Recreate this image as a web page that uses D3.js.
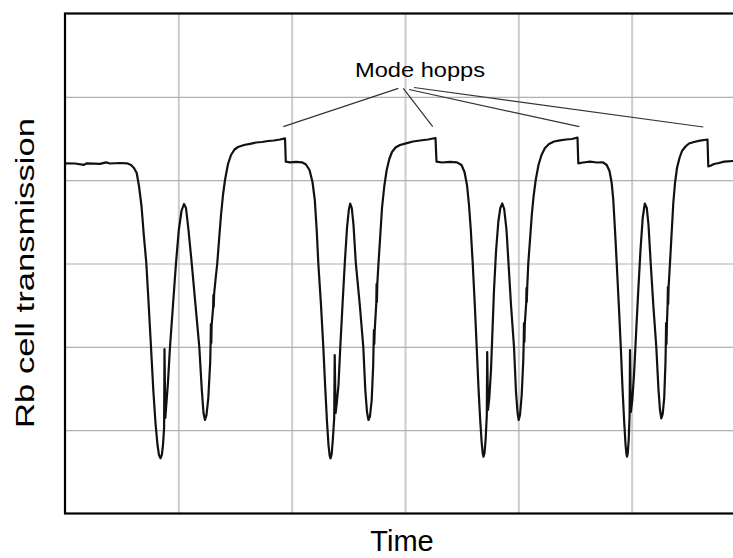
<!DOCTYPE html>
<html>
<head>
<meta charset="utf-8">
<script src="https://cdn.jsdelivr.net/npm/d3@7/dist/d3.min.js"></script>
<style>
  html, body { margin: 0; padding: 0; background: #fff; }
  svg { display: block; }
  text { font-family: "Liberation Sans", Arial, Helvetica, sans-serif; fill: #000; }
</style>
</head>
<body>
<svg id="chart" width="733" height="558"></svg>
<script>
// ---- data (time in arbitrary units, transmission in arbitrary units) ----
const xTicks = [10, 20, 30, 40, 50];
const yTicks = [1, 2, 3, 4, 5];
const xLabel = "Time";
const yLabel = "Rb cell transmission";
const annotationText = "Mode hopps";
// label anchor of the annotation
const annotationAnchor = [31.324, 5.238];
// leader line starts (near the label) and targets (mode hops)
const leaderStarts = [[29.409, 5.102], [29.85, 5.102], [30.353, 5.088], [30.794, 5.112]];
const hopTargets = [[19.262, 4.642], [32.444, 4.642], [45.379, 4.642], [56.32, 4.638]];
// measured trace [time, transmission]
const trace = [
[0,4.202],[0.882,4.20],[1.676,4.184],[1.941,4.202],[3.088,4.196],[3.618,4.214],[3.971,4.20],[4.853,4.206],[5.471,4.202],[5.824,4.182],
[6.088,4.146],[6.326,4.086],[6.529,3.93],[6.75,3.69],[6.953,3.342],[7.174,3.006],[7.385,2.502],[7.588,1.998],[7.791,1.482],[7.985,1.086],
[8.162,0.822],[8.294,0.702],[8.426,0.662],[8.541,0.702],[8.647,0.822],[8.744,1.026],[8.779,1.974],[8.85,1.146],[8.956,1.338],[9.088,1.578],
[9.265,1.998],[9.529,2.502],[9.794,3.006],[10.041,3.402],[10.279,3.63],[10.5,3.714],[10.676,3.666],[10.897,3.402],[11.179,3.006],[11.515,2.502],
[11.85,1.998],[12.071,1.482],[12.221,1.206],[12.353,1.122],[12.485,1.182],[12.644,1.386],[12.812,1.818],[12.847,2.022],[12.874,2.274],[12.909,2.046],
[12.935,2.25],[13.068,2.466],[13.094,2.622],[13.121,2.478],[13.156,2.634],[13.279,2.802],[13.438,3.006],[13.606,3.306],[13.765,3.582],[13.941,3.822],
[14.118,4.002],[14.382,4.194],[14.647,4.302],[14.956,4.368],[15.265,4.398],[15.794,4.422],[16.324,4.436],[16.853,4.452],[17.382,4.458],[17.912,4.47],
[18.441,4.476],[18.971,4.488],[19.412,4.502],[19.482,4.222],[19.853,4.214],[20.382,4.22],[20.912,4.214],[21.265,4.188],[21.574,4.122],[21.838,3.978],
[22.041,3.762],[22.209,3.402],[22.35,3.006],[22.588,2.502],[22.791,1.998],[22.959,1.518],[23.118,1.098],[23.25,0.822],[23.356,0.69],[23.426,0.662],
[23.532,0.714],[23.629,0.882],[23.753,1.146],[23.797,1.902],[23.876,1.206],[23.982,1.326],[24.132,1.542],[24.291,1.998],[24.485,2.502],[24.688,3.006],
[24.882,3.426],[25.041,3.642],[25.165,3.72],[25.306,3.666],[25.456,3.462],[25.659,3.006],[26.012,2.502],[26.32,1.998],[26.497,1.482],[26.647,1.218],
[26.779,1.122],[26.912,1.17],[27.062,1.362],[27.194,1.782],[27.229,2.022],[27.256,2.202],[27.291,2.034],[27.326,2.19],[27.468,2.526],[27.494,2.754],
[27.521,2.538],[27.556,2.754],[27.662,3.006],[27.821,3.342],[27.971,3.666],[28.174,3.93],[28.385,4.122],[28.615,4.254],[28.853,4.338],[29.162,4.392],
[29.559,4.422],[30.088,4.442],[30.706,4.464],[31.324,4.476],[32.029,4.488],[32.691,4.506],[32.779,4.222],[33.265,4.212],[33.971,4.22],[34.588,4.214],
[34.985,4.182],[35.25,4.098],[35.47,3.942],[35.647,3.702],[35.806,3.402],[35.974,3.006],[36.159,2.502],[36.326,1.998],[36.485,1.506],[36.635,1.122],
[36.768,0.846],[36.856,0.726],[36.926,0.682],[37.015,0.726],[37.112,0.882],[37.218,1.182],[37.253,1.938],[37.324,1.242],[37.438,1.386],[37.588,1.722],
[37.721,2.202],[37.853,2.682],[38.029,3.138],[38.232,3.498],[38.409,3.666],[38.585,3.72],[38.753,3.654],[38.956,3.402],[39.132,3.006],[39.353,2.502],
[39.618,1.998],[39.794,1.458],[39.926,1.218],[40.032,1.122],[40.147,1.182],[40.297,1.422],[40.438,1.842],[40.474,2.046],[40.5,2.286],[40.535,2.058],
[40.571,2.274],[40.694,2.526],[40.721,2.706],[40.747,2.538],[40.782,2.706],[40.879,3.006],[41.029,3.282],[41.188,3.582],[41.338,3.798],[41.532,4.002],
[41.779,4.182],[42.044,4.302],[42.353,4.386],[42.706,4.434],[43.147,4.464],[43.676,4.478],[44.206,4.488],[44.735,4.494],[45.221,4.512],[45.291,4.202],
[45.706,4.212],[46.324,4.222],[46.941,4.212],[47.471,4.214],[47.797,4.182],[48.044,4.11],[48.238,3.966],[48.379,3.762],[48.529,3.402],[48.679,3.006],
[48.865,2.502],[49.041,1.998],[49.191,1.506],[49.341,1.098],[49.456,0.834],[49.526,0.726],[49.588,0.682],[49.659,0.726],[49.738,0.882],[49.818,1.182],
[49.853,1.962],[49.924,1.218],[50.056,1.362],[50.206,1.662],[50.382,2.142],[50.585,2.682],[50.779,3.162],[50.974,3.546],[51.159,3.72],[51.335,3.666],
[51.485,3.462],[51.679,3.006],[51.909,2.502],[52.173,1.998],[52.368,1.482],[52.5,1.242],[52.615,1.142],[52.738,1.194],[52.871,1.386],[52.985,1.818],
[53.012,2.022],[53.038,2.286],[53.074,2.034],[53.109,2.274],[53.171,2.502],[53.197,2.718],[53.224,2.514],[53.259,2.718],[53.382,3.006],[53.532,3.378],
[53.674,3.726],[53.824,3.966],[54,4.146],[54.221,4.266],[54.441,4.35],[54.75,4.404],[55.059,4.44],[55.5,4.458],[56.029,4.474],[56.691,4.488],
[56.762,4.164],[57,4.176],[57.265,4.194],[57.706,4.206],[58.147,4.222],[58.5,4.226],[58.941,4.23],[60,4.236]
];

// ---- layout ----
const svg = d3.select("#chart");
const plot = { left: 65, top: 13.5, right: 745, bottom: 513.5 };
const x = d3.scaleLinear().domain([0, 60]).range([plot.left, plot.right]);
const y = d3.scaleLinear().domain([0, 6]).range([plot.bottom, plot.top]);

svg.append("defs").append("clipPath").attr("id", "clip")
  .append("rect").attr("x", plot.left).attr("y", plot.top)
  .attr("width", plot.right - plot.left).attr("height", plot.bottom - plot.top);

// vertical grid
const gx = svg.append("g")
  .attr("transform", `translate(0,${plot.bottom})`)
  .call(d3.axisBottom(x).tickValues(xTicks).tickSize(-(plot.bottom - plot.top)).tickFormat(""));
gx.select(".domain").remove();
gx.selectAll("line").attr("stroke", "#cccccc").attr("stroke-width", 2);

// horizontal grid
const gy = svg.append("g")
  .attr("transform", `translate(${plot.left},0)`)
  .call(d3.axisLeft(y).tickValues(yTicks).tickSize(-(plot.right - plot.left)).tickFormat(""));
gy.select(".domain").remove();
gy.selectAll("line").attr("stroke", "#b0b0b0").attr("stroke-width", 1.2);

// frame
svg.append("rect")
  .attr("x", x(0)).attr("y", y(6))
  .attr("width", x(60) - x(0)).attr("height", y(0) - y(6))
  .attr("fill", "none").attr("stroke", "#000").attr("stroke-width", 2.2);

// trace
const line = d3.line().x(d => x(d[0])).y(d => y(d[1]));
svg.append("path")
  .datum(trace)
  .attr("clip-path", "url(#clip)")
  .attr("d", line)
  .attr("fill", "none")
  .attr("stroke", "#111")
  .attr("stroke-width", 2.2)
  .attr("stroke-linejoin", "round");

// annotation leaders
svg.append("g").selectAll("line")
  .data(hopTargets)
  .join("line")
  .attr("x1", (d, i) => x(leaderStarts[i][0]))
  .attr("y1", (d, i) => y(leaderStarts[i][1]))
  .attr("x2", d => x(d[0]))
  .attr("y2", d => y(d[1]))
  .attr("stroke", "#333")
  .attr("stroke-width", 1.2);

svg.append("text")
  .attr("x", x(annotationAnchor[0]))
  .attr("y", y(annotationAnchor[1]))
  .attr("text-anchor", "middle")
  .attr("font-size", 21)
  .attr("textLength", 130)
  .attr("lengthAdjust", "spacingAndGlyphs")
  .text(annotationText);

// axis labels
svg.append("text")
  .attr("x", 402)
  .attr("y", 551)
  .attr("text-anchor", "middle")
  .attr("font-size", 29)
  .text(xLabel);

svg.append("text")
  .attr("transform", "translate(33.5,273) rotate(-90)")
  .attr("text-anchor", "middle")
  .attr("font-size", 26)
  .attr("textLength", 310)
  .attr("lengthAdjust", "spacingAndGlyphs")
  .text(yLabel);
</script>
</body>
</html>
